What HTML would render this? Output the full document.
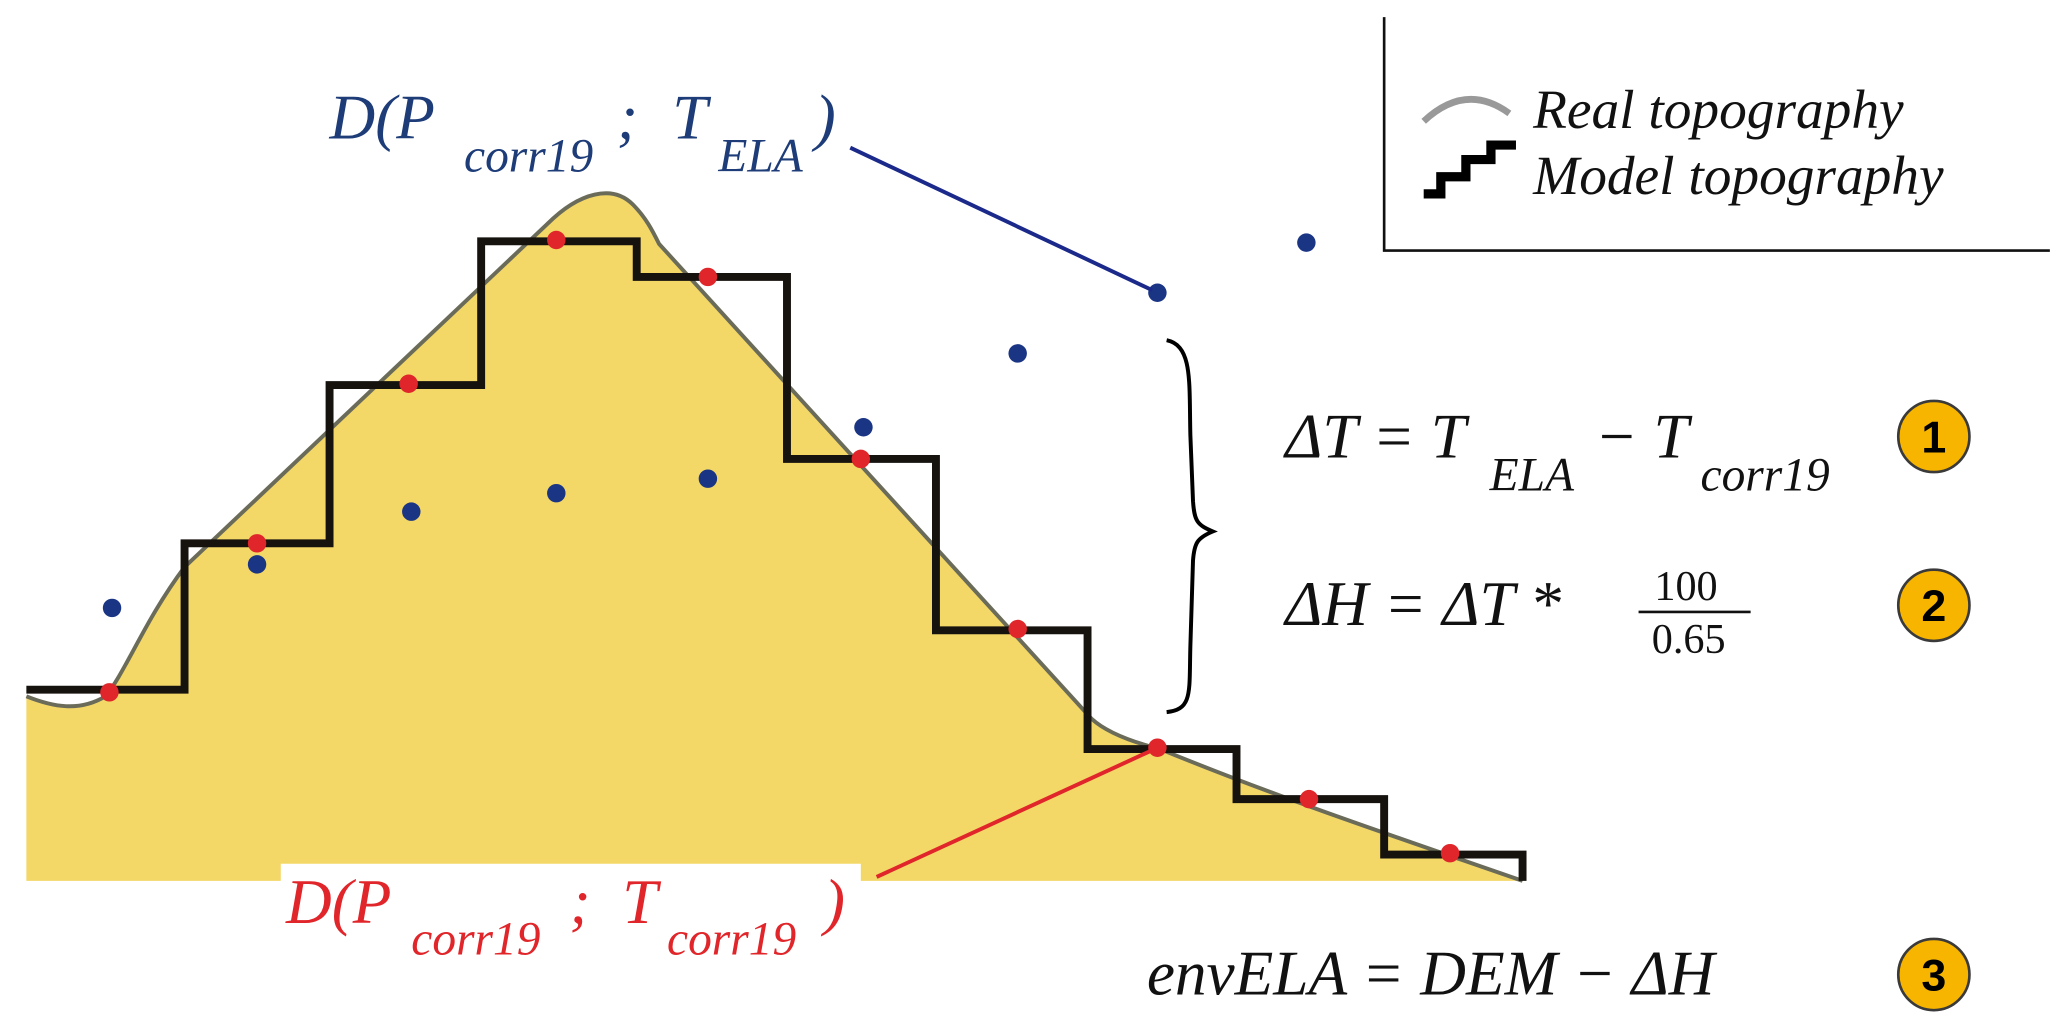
<!DOCTYPE html>
<html><head><meta charset="utf-8"><style>
html,body{margin:0;padding:0;background:#fff;}
svg{display:block;}
text{font-family:"Liberation Serif",serif;font-style:italic;}
</style></head><body>
<svg width="2067" height="1022" viewBox="0 0 1568 775" preserveAspectRatio="none" xmlns="http://www.w3.org/2000/svg">
<path d="M20,528 C40,536 60,540 80,528 C95,510 110,470 140,430 L415,170 C440,145 465,140 480,155 C490,165 495,175 500,185 L828,545 C840,556 860,563 880,568 C970,605 1060,635 1155,668 L20,668 Z" fill="#f3d868"/>
<path d="M20,528 C40,536 60,540 80,528 C95,510 110,470 140,430 L415,170 C440,145 465,140 480,155 C490,165 495,175 500,185 L828,545 C840,556 860,563 880,568 C970,605 1060,635 1155,668" fill="none" stroke="#6b6b5a" stroke-width="3"/>
<path d="M20,523 H140 V412 H250 V292 H365 V183 H483 V210 H597 V348 H710 V478 H825 V568 H938 V606 H1050 V648 H1155 V668" fill="none" stroke="#16120e" stroke-width="6"/>
<g fill="#1b3585">
<circle cx="85" cy="461" r="7"/><circle cx="195" cy="428" r="7"/><circle cx="312" cy="388" r="7"/>
<circle cx="422" cy="374" r="7"/><circle cx="537" cy="363" r="7"/><circle cx="655" cy="324" r="7"/>
<circle cx="772" cy="268" r="7"/><circle cx="878" cy="222" r="7"/><circle cx="991" cy="184" r="7"/>
</g>
<g fill="#e0262a">
<circle cx="83" cy="525" r="7"/><circle cx="195" cy="412" r="7"/><circle cx="310" cy="291" r="7"/>
<circle cx="422" cy="182" r="7"/><circle cx="537" cy="210" r="7"/><circle cx="653" cy="348" r="7"/>
<circle cx="772" cy="477" r="7"/><circle cx="878" cy="567" r="7"/><circle cx="993" cy="606" r="7"/>
<circle cx="1100" cy="647" r="7"/>
</g>
<line x1="645" y1="112" x2="874" y2="220" stroke="#1b2a8a" stroke-width="3"/>
<text x="250" y="105" font-size="48" fill="#1d3c78">D(P</text>
<text x="352" y="130" font-size="36" fill="#1d3c78">corr19</text>
<text x="468" y="105" font-size="48" fill="#1d3c78">;</text>
<text x="510" y="105" font-size="48" fill="#1d3c78">T</text>
<text x="545" y="130" font-size="36" fill="#1d3c78">ELA</text>
<text x="618" y="105" font-size="48" fill="#1d3c78">)</text>
<rect x="213" y="655" width="440" height="65" fill="#fff"/>
<line x1="665" y1="665" x2="876" y2="568" stroke="#e0262a" stroke-width="3"/>
<text x="217" y="700" font-size="48" fill="#e0262a">D(P</text>
<text x="312" y="724" font-size="36" fill="#e0262a">corr19</text>
<text x="432" y="700" font-size="48" fill="#e0262a">;</text>
<text x="472" y="700" font-size="48" fill="#e0262a">T</text>
<text x="506" y="724" font-size="36" fill="#e0262a">corr19</text>
<text x="625" y="700" font-size="48" fill="#e0262a">)</text>
<path d="M1050,13 V190 H1555" fill="none" stroke="#111" stroke-width="2"/>
<path d="M1080,92 Q1112,62 1145,86" fill="none" stroke="#999" stroke-width="5"/>
<path d="M1080,147 H1093 V134 H1112 V121 H1131 V110 H1150" fill="none" stroke="#000" stroke-width="7"/>
<text x="1163" y="97" font-size="42" fill="#111">Real topography</text>
<text x="1163" y="147" font-size="42" fill="#111">Model topography</text>
<path d="M885,258 C905,262 902,290 903,330 L905,380 C906,395 908,398 920,403 C908,408 906,412 905,425 L903,490 C902,525 905,538 885,540" fill="none" stroke="#000" stroke-width="3"/>
<g fill="#111" font-size="48">
<text x="975" y="347">ΔT = T</text>
<text x="1130" y="372" font-size="36">ELA</text>
<text x="1210" y="347">− T</text>
<text x="1290" y="372" font-size="36">corr19</text>
<text x="975" y="474">ΔH  =  ΔT  *</text>
<text x="1255" y="455" font-size="32" style="font-style:normal">100</text>
<line x1="1243" y1="464" x2="1328" y2="464" stroke="#111" stroke-width="2"/>
<text x="1253" y="495" font-size="32" style="font-style:normal">0.65</text>
<text x="870" y="754">envELA = DEM − ΔH</text>
</g>
<g font-weight="bold" font-size="34">
<circle cx="1467" cy="331" r="27" fill="#f8b500" stroke="#3a3a3a" stroke-width="2"/>
<text x="1467" y="343" text-anchor="middle" style="font-style:normal;font-family:'Liberation Sans'">1</text>
<circle cx="1467" cy="459" r="27" fill="#f8b500" stroke="#3a3a3a" stroke-width="2"/>
<text x="1467" y="471" text-anchor="middle" style="font-style:normal;font-family:'Liberation Sans'">2</text>
<circle cx="1467" cy="739" r="27" fill="#f8b500" stroke="#3a3a3a" stroke-width="2"/>
<text x="1467" y="751" text-anchor="middle" style="font-style:normal;font-family:'Liberation Sans'">3</text>
</g>
</svg>
</body></html>
